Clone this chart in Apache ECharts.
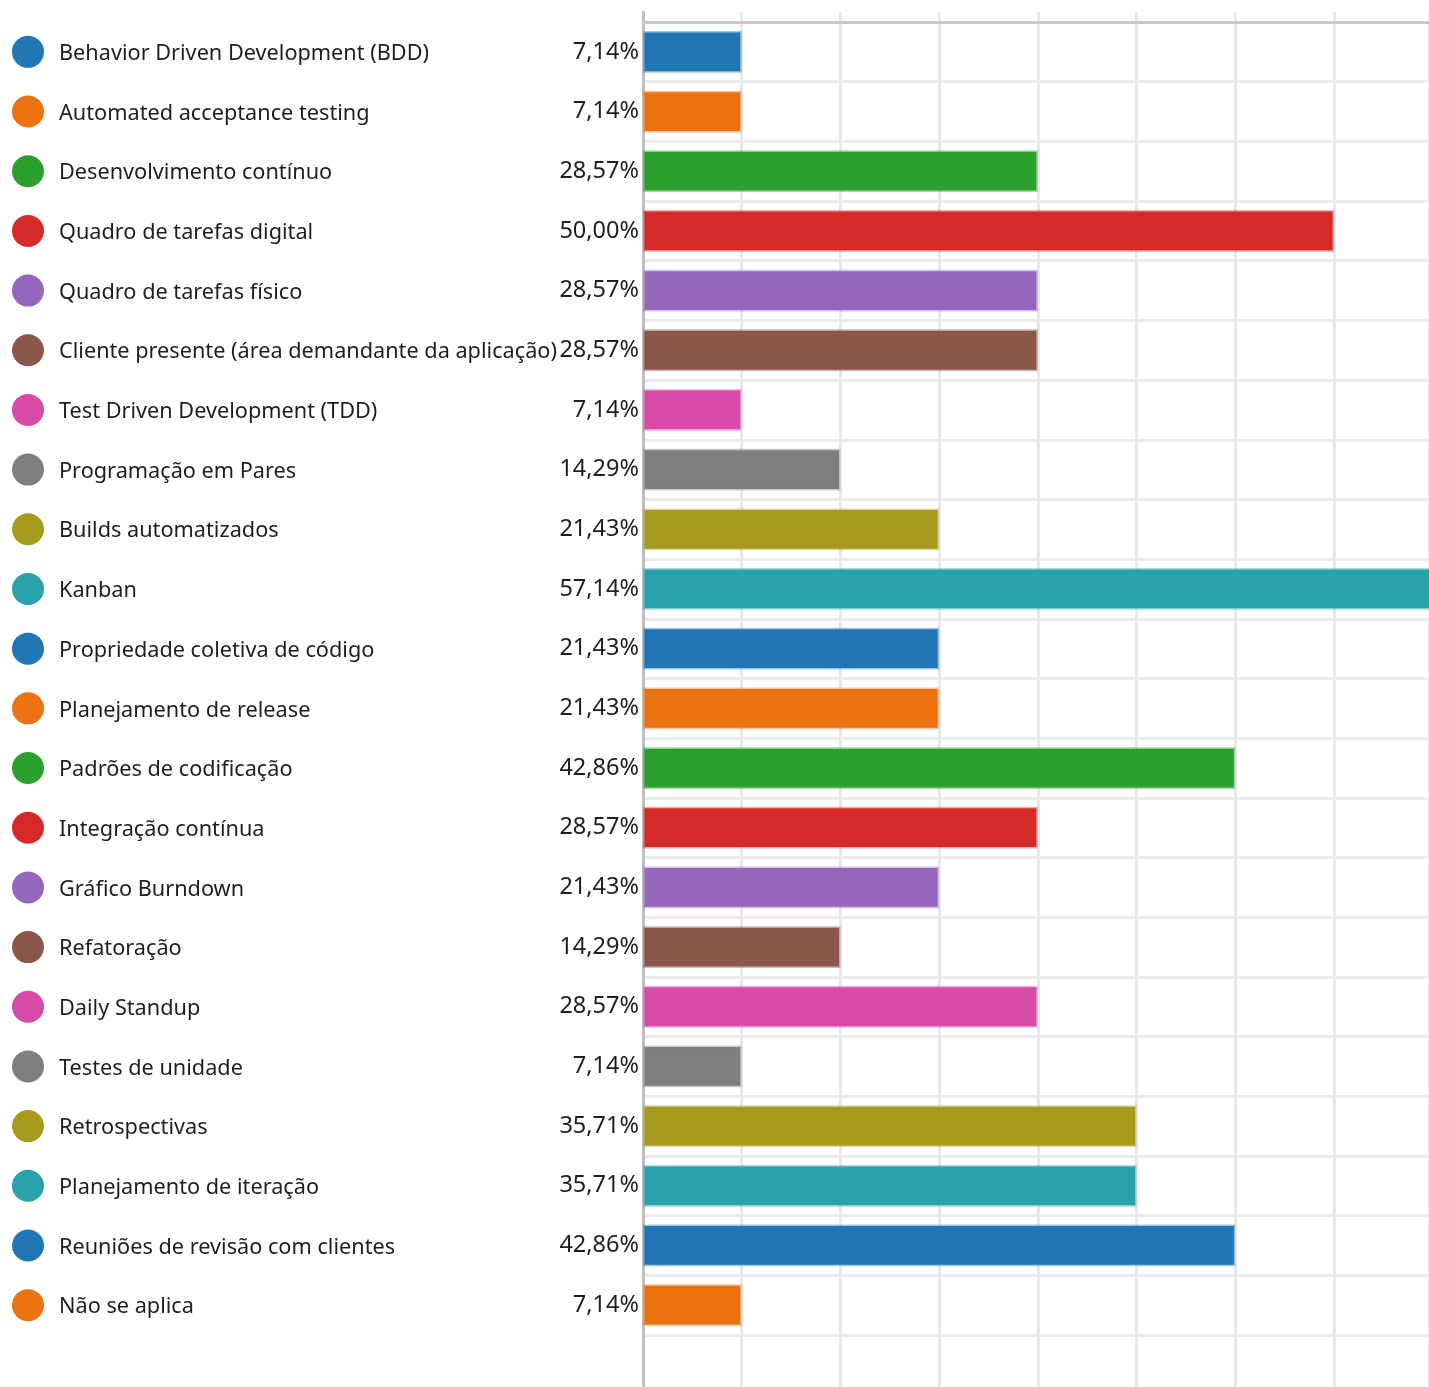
<!DOCTYPE html>
<html>
<head>
<meta charset="utf-8">
<title>Práticas ágeis</title>
<script src="https://cdn.jsdelivr.net/npm/echarts@6/dist/echarts.min.js"></script>
<style>
  html, body { margin: 0; padding: 0; background: #ffffff; }
  #chart { width: 1429px; height: 1387px; }
</style>
</head>
<body>
<div id="chart"></div>
<script>
// Practices and the share of respondents (%) who use each one
const categories = [
  'Behavior Driven Development (BDD)',
  'Automated acceptance testing',
  'Desenvolvimento contínuo',
  'Quadro de tarefas digital',
  'Quadro de tarefas físico',
  'Cliente presente (área demandante da aplicação)',
  'Test Driven Development (TDD)',
  'Programação em Pares',
  'Builds automatizados',
  'Kanban',
  'Propriedade coletiva de código',
  'Planejamento de release',
  'Padrões de codificação',
  'Integração contínua',
  'Gráfico Burndown',
  'Refatoração',
  'Daily Standup',
  'Testes de unidade',
  'Retrospectivas',
  'Planejamento de iteração',
  'Reuniões de revisão com clientes',
  'Não se aplica'
];
const percentages = [
  7.14, 7.14, 28.57, 50.00, 28.57, 28.57, 7.14, 14.29, 21.43, 57.14, 21.43,
  21.43, 42.86, 28.57, 21.43, 14.29, 28.57, 7.14, 35.71, 35.71, 42.86, 7.14
];
const palette = [
  '#2176b5', '#ec7211', '#2ca02c', '#d62a2a', '#9467bd',
  '#8c564b', '#d84aa8', '#7f7f7f', '#a59a1e', '#29a2ac'
];

// one gridline per respondent (1 of 14)
const step = 100 / 14;
const xMax = 56.87;

function fmtPct(v) {
  return v.toFixed(2).replace('.', ',') + '%';
}
function halo(hex, a) {
  const n = parseInt(hex.slice(1), 16);
  return 'rgba(' + (n >> 16) + ',' + ((n >> 8) & 255) + ',' + (n & 255) + ',' + a + ')';
}

const rich = {
  t: { fontSize: 21.7, color: '#1e1e1e', padding: [4, 0, 0, 15], fontFamily: 'Noto Sans' }
};
palette.forEach(function (c, i) {
  rich['d' + i] = { width: 32, height: 32, borderRadius: 16, backgroundColor: c };
});

const barData = percentages.map(function (v, i) {
  const c = palette[i % palette.length];
  return {
    value: v,
    itemStyle: { color: c, borderColor: halo(c, 0.4), borderWidth: 3 }
  };
});

const chart = echarts.init(document.getElementById('chart'));
chart.setOption({
  animation: false,
  grid: [
    // bar area
    { left: 643, right: 0, top: 22, height: 1313 },
    // full-height backdrop carrying the vertical gridlines and the left axis
    { left: 643, right: 0, top: 12, bottom: 0 }
  ],
  xAxis: [
    {
      gridIndex: 0, type: 'value', position: 'top',
      min: 0, max: xMax, interval: step,
      axisLine: { show: true, lineStyle: { color: '#c8c8c8', width: 3 } },
      axisTick: { show: false },
      axisLabel: { show: false },
      splitLine: { show: false }
    },
    {
      gridIndex: 1, type: 'value',
      min: 0, max: xMax, interval: step,
      axisLine: { show: false },
      axisTick: { show: false },
      axisLabel: { show: false },
      splitLine: { show: true, lineStyle: { color: '#e8e8e8', width: 3 } }
    }
  ],
  yAxis: [
    {
      gridIndex: 0, type: 'category', inverse: true, data: categories,
      axisLine: { show: false },
      axisTick: { show: false },
      splitLine: { show: true, lineStyle: { color: '#ececec', width: 3 } },
      axisLabel: {
        align: 'left', margin: 631,
        formatter: function (value, index) {
          return '{d' + (index % palette.length) + '|}{t|' + value + '}';
        },
        rich: rich
      }
    },
    {
      gridIndex: 1, type: 'category', data: [''],
      axisLine: { show: true, lineStyle: { color: '#c0c0c0', width: 3 } },
      axisTick: { show: false },
      axisLabel: { show: false },
      splitLine: { show: false }
    }
  ],
  series: [
    {
      type: 'bar',
      xAxisIndex: 0, yAxisIndex: 0,
      data: barData,
      barCategoryGap: '30%',
      z: 3,
      label: {
        show: true, position: 'left', distance: 4,
        fontSize: 23.5, color: '#1e1e1e', fontFamily: 'Noto Sans',
        formatter: function (p) { return fmtPct(p.value); }
      }
    }
  ]
});
</script>
</body>
</html>
